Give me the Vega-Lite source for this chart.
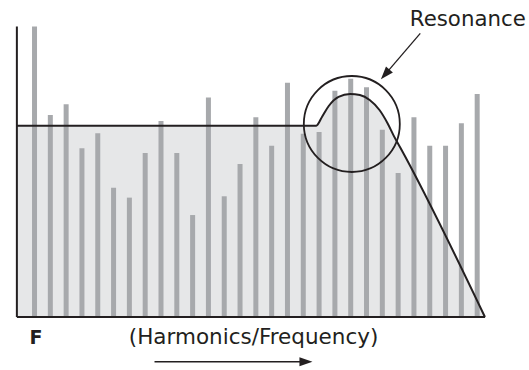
{
  "$schema": "https://vega.github.io/schema/vega-lite/v6.json",
  "width": 519,
  "height": 360,
  "autosize": {"type": "none"},
  "padding": 5,
  "background": "white",
  "config": {"view": {"stroke": null}},
  "datasets": {
    "harmonics": [
      {"h": 1, "a": 151.8}, {"h": 2, "a": 105.6}, {"h": 3, "a": 111.2}, {"h": 4, "a": 88.2},
      {"h": 5, "a": 96.0}, {"h": 6, "a": 67.6}, {"h": 7, "a": 62.4}, {"h": 8, "a": 85.7},
      {"h": 9, "a": 102.5}, {"h": 10, "a": 85.7}, {"h": 11, "a": 53.3}, {"h": 12, "a": 114.8},
      {"h": 13, "a": 63.1}, {"h": 14, "a": 80.0}, {"h": 15, "a": 104.4}, {"h": 16, "a": 89.5},
      {"h": 17, "a": 122.5}, {"h": 18, "a": 95.8}, {"h": 19, "a": 96.7}, {"h": 20, "a": 118.3},
      {"h": 21, "a": 124.6}, {"h": 22, "a": 120.1}, {"h": 23, "a": 97.9}, {"h": 24, "a": 75.3},
      {"h": 25, "a": 104.4}, {"h": 26, "a": 89.5}, {"h": 27, "a": 89.5}, {"h": 28, "a": 101.3},
      {"h": 29, "a": 116.6}
    ],
    "envelope": [
      {"h": -0.116, "a": 100}, {"h": 18.82, "a": 100}, {"h": 19.19, "a": 104.7},
      {"h": 19.61, "a": 110.3}, {"h": 20.23, "a": 115.1}, {"h": 20.96, "a": 116.6},
      {"h": 21.58, "a": 116.0}, {"h": 22.20, "a": 113.4}, {"h": 22.82, "a": 108.2},
      {"h": 23.33, "a": 101.3}, {"h": 23.75, "a": 94.3}, {"h": 24.16, "a": 88.2},
      {"h": 29.49, "a": 0}
    ]
  },
  "data": {"values": [{}]},
  "layer": [
    {
      "data": {"name": "envelope"},
      "mark": {"type": "area", "fill": "#e6e7e8", "interpolate": "monotone"},
      "encoding": {
        "x": {"field": "h", "type": "quantitative", "axis": null, "scale": {"domain": [-0.551, 31.645], "nice": false, "zero": false}},
        "y": {"field": "a", "type": "quantitative", "axis": null, "scale": {"domain": [-25.1, 163.1], "nice": false, "zero": false}},
        "y2": {"datum": 0}
      }
    },
    {
      "data": {"name": "harmonics"},
      "mark": {"type": "bar", "width": 5, "color": "#a7a9ac"},
      "encoding": {
        "x": {"field": "h", "type": "quantitative", "axis": null, "scale": {"domain": [-0.551, 31.645], "nice": false, "zero": false}},
        "y": {"field": "a", "type": "quantitative", "axis": null, "scale": {"domain": [-25.1, 163.1], "nice": false, "zero": false}},
        "y2": {"datum": 0}
      }
    },
    {
      "data": {"name": "envelope"},
      "mark": {"type": "line", "stroke": "#231f20", "strokeWidth": 2, "interpolate": "monotone"},
      "encoding": {
        "x": {"field": "h", "type": "quantitative", "axis": null},
        "y": {"field": "a", "type": "quantitative", "axis": null}
      }
    },
    {
      "mark": {"type": "rule", "stroke": "#231f20", "strokeWidth": 2},
      "encoding": {
        "x": {"datum": -0.116, "type": "quantitative", "axis": null},
        "y": {"datum": 0, "type": "quantitative", "axis": null},
        "y2": {"datum": 151.8}
      }
    },
    {
      "mark": {"type": "rule", "stroke": "#231f20", "strokeWidth": 2},
      "encoding": {
        "x": {"datum": -0.116, "type": "quantitative", "axis": null},
        "x2": {"datum": 29.5},
        "y": {"datum": 0, "type": "quantitative", "axis": null}
      }
    },
    {
      "mark": {"type": "point", "shape": "circle", "size": 9216, "filled": false, "stroke": "#231f20", "strokeWidth": 1.8, "opacity": 1},
      "encoding": {
        "x": {"datum": 21.07, "type": "quantitative", "axis": null},
        "y": {"datum": 100.9, "type": "quantitative", "axis": null}
      }
    },
    {
      "mark": {"type": "rule", "stroke": "#231f20", "strokeWidth": 1.3},
      "encoding": {
        "x": {"datum": 25.40, "type": "quantitative", "axis": null},
        "y": {"datum": 148.3, "type": "quantitative", "axis": null},
        "x2": {"datum": 23.18},
        "y2": {"datum": 126.8}
      }
    },
    {
      "mark": {"type": "point", "shape": "M0,-1L0.7,1L-0.7,1Z", "size": 169, "filled": true, "color": "#231f20", "opacity": 1, "angle": 221},
      "encoding": {
        "x": {"datum": 23.18, "type": "quantitative", "axis": null},
        "y": {"datum": 126.8, "type": "quantitative", "axis": null}
      }
    },
    {
      "mark": {"type": "rule", "stroke": "#231f20", "strokeWidth": 1.5},
      "encoding": {
        "x": {"datum": 8.59, "type": "quantitative", "axis": null},
        "x2": {"datum": 18.17},
        "y": {"datum": -23.4, "type": "quantitative", "axis": null}
      }
    },
    {
      "mark": {"type": "point", "shape": "M0,-1L0.7,1L-0.7,1Z", "size": 169, "filled": true, "color": "#231f20", "opacity": 1, "angle": 90},
      "encoding": {
        "x": {"datum": 18.17, "type": "quantitative", "axis": null},
        "y": {"datum": -23.4, "type": "quantitative", "axis": null}
      }
    },
    {
      "mark": {"type": "text", "text": "Resonance", "font": "DejaVu Sans", "fontSize": 21.3, "color": "#231f20", "align": "left", "baseline": "alphabetic"},
      "encoding": {
        "x": {"datum": 24.74, "type": "quantitative", "axis": null},
        "y": {"datum": 152.1, "type": "quantitative", "axis": null}
      }
    },
    {
      "mark": {"type": "text", "text": "F", "font": "DejaVu Sans", "fontWeight": "bold", "fontSize": 19, "color": "#231f20", "align": "left", "baseline": "alphabetic"},
      "encoding": {
        "x": {"datum": 0.69, "type": "quantitative", "axis": null},
        "y": {"datum": -13.9, "type": "quantitative", "axis": null}
      }
    },
    {
      "mark": {"type": "text", "text": "(Harmonics/Frequency)", "font": "DejaVu Sans", "fontSize": 21.5, "color": "#231f20", "align": "left", "baseline": "alphabetic"},
      "encoding": {
        "x": {"datum": 6.96, "type": "quantitative", "axis": null},
        "y": {"datum": -14.1, "type": "quantitative", "axis": null}
      }
    }
  ]
}
